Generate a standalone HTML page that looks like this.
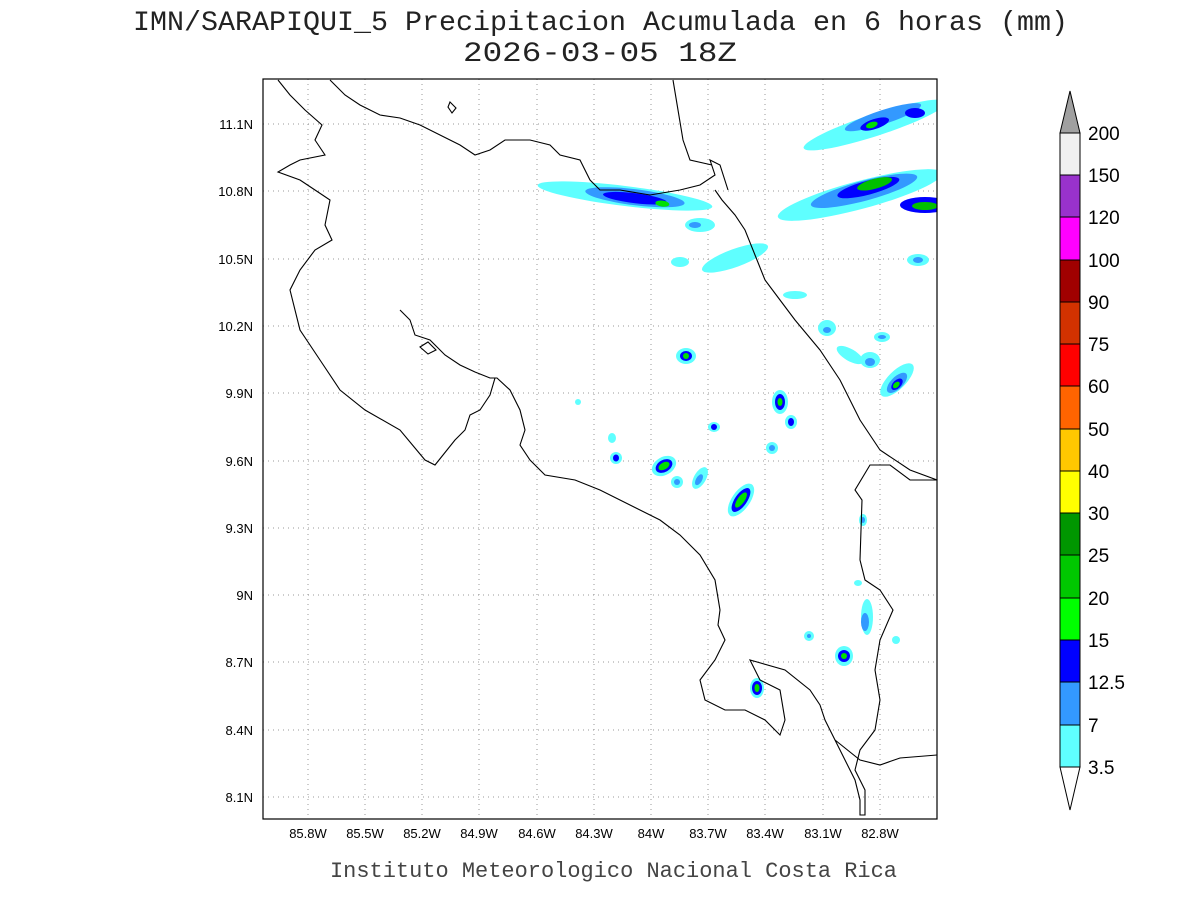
<!DOCTYPE html>
<html><head><meta charset="utf-8"><style>
html,body{margin:0;padding:0;background:#fff;}
svg{display:block;font-family:"Liberation Sans",sans-serif;}
</style></head><body>
<svg width="1200" height="900" viewBox="0 0 1200 900" xmlns="http://www.w3.org/2000/svg">
<rect width="1200" height="900" fill="#fff"/>
<text x="133" y="30" textLength="935" lengthAdjust="spacingAndGlyphs" font-size="28" fill="#222" font-family="Liberation Mono, monospace">IMN/SARAPIQUI_5 Precipitacion Acumulada en 6 horas (mm)</text>
<text x="463" y="61" textLength="274" lengthAdjust="spacingAndGlyphs" font-size="28" fill="#222" font-family="Liberation Mono, monospace">2026-03-05 18Z</text>
<defs><clipPath id="c"><rect x="263" y="79" width="674" height="740"/></clipPath></defs>
<g stroke="#999" stroke-width="1" stroke-dasharray="1,4">
<line x1="308" y1="79" x2="308" y2="819"/><line x1="365" y1="79" x2="365" y2="819"/><line x1="422" y1="79" x2="422" y2="819"/><line x1="479" y1="79" x2="479" y2="819"/><line x1="537" y1="79" x2="537" y2="819"/><line x1="594" y1="79" x2="594" y2="819"/><line x1="651" y1="79" x2="651" y2="819"/><line x1="708" y1="79" x2="708" y2="819"/><line x1="765" y1="79" x2="765" y2="819"/><line x1="823" y1="79" x2="823" y2="819"/><line x1="880" y1="79" x2="880" y2="819"/>
<line x1="263" y1="124" x2="937" y2="124"/><line x1="263" y1="191" x2="937" y2="191"/><line x1="263" y1="259" x2="937" y2="259"/><line x1="263" y1="326" x2="937" y2="326"/><line x1="263" y1="393" x2="937" y2="393"/><line x1="263" y1="461" x2="937" y2="461"/><line x1="263" y1="528" x2="937" y2="528"/><line x1="263" y1="595" x2="937" y2="595"/><line x1="263" y1="662" x2="937" y2="662"/><line x1="263" y1="730" x2="937" y2="730"/><line x1="263" y1="797" x2="937" y2="797"/>
</g>
<g clip-path="url(#c)">
<g transform="rotate(7 625 196)"><ellipse cx="625" cy="196" rx="88" ry="10" fill="#5fffff"/><ellipse cx="635" cy="196" rx="50" ry="8" fill="#3399ff"/><ellipse cx="635" cy="197" rx="32" ry="5" fill="#0000ff"/><ellipse cx="663" cy="199" rx="7" ry="3" fill="#00e000"/></g>
<g transform="rotate(-15 860 195)"><ellipse cx="860" cy="195" rx="85" ry="14" fill="#5fffff"/><ellipse cx="865" cy="192" rx="55" ry="10" fill="#3399ff"/><ellipse cx="870" cy="190" rx="32" ry="7" fill="#0000ff"/><ellipse cx="877" cy="188" rx="18" ry="5" fill="#00c000"/></g>
<ellipse cx="925" cy="205" rx="25" ry="8" fill="#0000ff"/><ellipse cx="925" cy="206" rx="13" ry="4" fill="#00c000"/>
<g transform="rotate(-18 875 125)"><ellipse cx="875" cy="125" rx="75" ry="11" fill="#5fffff"/><ellipse cx="885" cy="120" rx="40" ry="7" fill="#3399ff"/><ellipse cx="875" cy="124" rx="15" ry="5" fill="#0000ff"/><ellipse cx="872" cy="124" rx="6" ry="3" fill="#00e000"/></g>
<ellipse cx="915" cy="113" rx="10" ry="5" fill="#0000ff"/>
<g transform="rotate(-20 735 258)"><ellipse cx="735" cy="258" rx="35" ry="9" fill="#5fffff"/></g>
<ellipse cx="700" cy="225" rx="15" ry="7" fill="#5fffff"/><ellipse cx="695" cy="225" rx="6" ry="3" fill="#3399ff"/>
<ellipse cx="680" cy="262" rx="9" ry="5" fill="#5fffff"/>
<ellipse cx="795" cy="295" rx="12" ry="4" fill="#5fffff"/>
<ellipse cx="918" cy="260" rx="11" ry="6" fill="#5fffff"/><ellipse cx="918" cy="260" rx="5" ry="3" fill="#3399ff"/>
<ellipse cx="827" cy="328" rx="9" ry="8" fill="#5fffff"/><ellipse cx="827" cy="330" rx="4" ry="3" fill="#3399ff"/>
<ellipse cx="882" cy="337" rx="8" ry="5" fill="#5fffff"/><ellipse cx="882" cy="337" rx="4" ry="2" fill="#3399ff"/>
<g transform="rotate(30 850 355)"><ellipse cx="850" cy="355" rx="15" ry="6" fill="#5fffff"/></g>
<ellipse cx="870" cy="360" rx="10" ry="8" fill="#5fffff"/><ellipse cx="870" cy="362" rx="5" ry="4" fill="#3399ff"/>
<g transform="rotate(-45 897 380)"><ellipse cx="897" cy="380" rx="22" ry="9" fill="#5fffff"/><ellipse cx="895" cy="382" rx="13" ry="6" fill="#3399ff"/><ellipse cx="894" cy="383" rx="7" ry="4" fill="#0000ff"/><ellipse cx="893" cy="383" rx="4" ry="2.5" fill="#00e000"/></g>
<ellipse cx="686" cy="356" rx="10" ry="8" fill="#5fffff"/><ellipse cx="686" cy="356" rx="6" ry="5" fill="#0000ff"/><ellipse cx="686" cy="356" rx="3" ry="3" fill="#00e000"/>
<ellipse cx="780" cy="402" rx="8" ry="12" fill="#5fffff"/><ellipse cx="780" cy="402" rx="5" ry="8" fill="#0000ff"/><ellipse cx="780" cy="402" rx="2.5" ry="4" fill="#00e000"/>
<ellipse cx="791" cy="422" rx="6" ry="7" fill="#5fffff"/><ellipse cx="791" cy="422" rx="3" ry="4" fill="#0000ff"/>
<ellipse cx="714" cy="427" rx="6" ry="5" fill="#5fffff"/><ellipse cx="714" cy="427" rx="3" ry="3" fill="#0000ff"/>
<ellipse cx="612" cy="438" rx="4" ry="5" fill="#5fffff"/>
<ellipse cx="616" cy="458" rx="6" ry="6" fill="#5fffff"/><ellipse cx="616" cy="458" rx="3" ry="3.5" fill="#0000ff"/>
<ellipse cx="772" cy="448" rx="6" ry="6" fill="#5fffff"/><ellipse cx="772" cy="448" rx="3" ry="3" fill="#3399ff"/>
<g transform="rotate(-30 664 466)"><ellipse cx="664" cy="466" rx="13" ry="9" fill="#5fffff"/><ellipse cx="664" cy="466" rx="9" ry="6" fill="#0000ff"/><ellipse cx="664" cy="466" rx="6" ry="3.5" fill="#00e000"/></g>
<ellipse cx="677" cy="482" rx="6" ry="6" fill="#5fffff"/><ellipse cx="677" cy="482" rx="3" ry="3" fill="#3399ff"/>
<g transform="rotate(30 700 478)"><ellipse cx="700" cy="478" rx="6" ry="12" fill="#5fffff"/><ellipse cx="700" cy="480" rx="3" ry="6" fill="#3399ff"/></g>
<g transform="rotate(35 741 500)"><ellipse cx="741" cy="500" rx="9" ry="19" fill="#5fffff"/><ellipse cx="741" cy="500" rx="6" ry="14" fill="#0000ff"/><ellipse cx="741" cy="500" rx="3.5" ry="9" fill="#00e000"/></g>
<ellipse cx="578" cy="402" rx="3" ry="3" fill="#5fffff"/>
<ellipse cx="863" cy="520" rx="4" ry="6" fill="#5fffff"/><ellipse cx="863" cy="520" rx="2" ry="3" fill="#3399ff"/>
<ellipse cx="867" cy="617" rx="6" ry="18" fill="#5fffff"/><ellipse cx="865" cy="622" rx="4" ry="9" fill="#3399ff"/>
<ellipse cx="809" cy="636" rx="5" ry="5" fill="#5fffff"/><ellipse cx="809" cy="636" rx="2" ry="2" fill="#3399ff"/>
<ellipse cx="844" cy="656" rx="9" ry="10" fill="#5fffff"/><ellipse cx="844" cy="656" rx="6" ry="6" fill="#0000ff"/><ellipse cx="844" cy="656" rx="3" ry="3" fill="#00e000"/>
<ellipse cx="896" cy="640" rx="4" ry="4" fill="#5fffff"/>
<ellipse cx="757" cy="688" rx="7" ry="10" fill="#5fffff"/><ellipse cx="757" cy="688" rx="5" ry="7" fill="#0000ff"/><ellipse cx="757" cy="688" rx="2.5" ry="4" fill="#00e000"/>
<ellipse cx="858" cy="583" rx="4" ry="3" fill="#5fffff"/>
<g fill="none" stroke="#000" stroke-width="1.1">
<polyline points="278,80 290,95 305,110 322,125 315,140 325,155 300,160 290,165 278,172 300,180 315,190 330,200 325,225 332,240 315,250 300,270 290,290 295,310 300,330 320,360 340,390 365,410 400,430 425,460 435,465 455,440 465,430 470,415 480,410 490,395 495,378"/>
<polyline points="400,310 410,320 415,335 430,340 445,355 460,365 475,372 490,378 497,378 510,390 520,410 525,430 520,445 530,460 545,475 575,480 600,490 620,500 640,510 660,520 680,535 700,555 715,580 720,610 718,625 725,640 715,660 700,680 705,700 725,710 745,710 765,720 780,735 785,720 780,690 760,680 750,660 785,670 810,690 820,705 825,720 835,740 845,760 855,780 860,800 860,815 865,815 865,790 855,770 860,750 875,730 880,700 875,670 880,640 893,610 880,590 865,580 860,560 862,500 855,490 870,465 890,465 910,480 937,480"/>
<polyline points="330,80 345,95 360,105 380,115 400,118 420,125 440,135 460,145 475,155 490,150 505,140 530,140 550,145 560,155 580,160 590,180 600,190 620,190 650,195 680,190 700,185 715,175 710,160 720,165 728,190"/>
<polyline points="673,80 678,110 683,140 690,160 712,165"/>
<polyline points="715,190 722,200 735,215 745,230 755,255 765,280 780,300 795,320 820,350 840,380 860,420 880,450 910,470 937,480"/>
<polygon points="420,347 428,342 436,350 428,354"/>
<polygon points="450,102 456,108 452,113 448,107"/>
<polyline points="835,740 860,760 880,765 900,758 937,755"/>
</g>
</g>
<rect x="263" y="79" width="674" height="740" fill="none" stroke="#000" stroke-width="1.2"/>
<g font-size="13" fill="#000" text-anchor="end">
<text x="253" y="129">11.1N</text><text x="253" y="196">10.8N</text><text x="253" y="264">10.5N</text><text x="253" y="331">10.2N</text><text x="253" y="398">9.9N</text><text x="253" y="466">9.6N</text><text x="253" y="533">9.3N</text><text x="253" y="600">9N</text><text x="253" y="667">8.7N</text><text x="253" y="735">8.4N</text><text x="253" y="802">8.1N</text>
</g>
<g font-size="13" fill="#000" text-anchor="middle">
<text x="308" y="838">85.8W</text><text x="365" y="838">85.5W</text><text x="422" y="838">85.2W</text><text x="479" y="838">84.9W</text><text x="537" y="838">84.6W</text><text x="594" y="838">84.3W</text><text x="651" y="838">84W</text><text x="708" y="838">83.7W</text><text x="765" y="838">83.4W</text><text x="823" y="838">83.1W</text><text x="880" y="838">82.8W</text>
</g>
<text x="330" y="877" textLength="567" lengthAdjust="spacingAndGlyphs" font-size="22" fill="#444" font-family="Liberation Mono, monospace">Instituto Meteorologico Nacional Costa Rica</text>
<g stroke="#000" stroke-width="1">
<polygon points="1060,133 1080,133 1070,91" fill="#a0a0a0"/>
<rect x="1060" y="133" width="20" height="42" fill="#f0f0f0"/>
<rect x="1060" y="175" width="20" height="42" fill="#9932cc"/>
<rect x="1060" y="217" width="20" height="43" fill="#ff00ff"/>
<rect x="1060" y="260" width="20" height="42" fill="#a00000"/>
<rect x="1060" y="302" width="20" height="42" fill="#d23200"/>
<rect x="1060" y="344" width="20" height="42" fill="#ff0000"/>
<rect x="1060" y="386" width="20" height="43" fill="#ff6400"/>
<rect x="1060" y="429" width="20" height="42" fill="#ffc800"/>
<rect x="1060" y="471" width="20" height="42" fill="#ffff00"/>
<rect x="1060" y="513" width="20" height="42" fill="#009600"/>
<rect x="1060" y="555" width="20" height="43" fill="#00c800"/>
<rect x="1060" y="598" width="20" height="42" fill="#00ff00"/>
<rect x="1060" y="640" width="20" height="42" fill="#0000ff"/>
<rect x="1060" y="682" width="20" height="43" fill="#3399ff"/>
<rect x="1060" y="725" width="20" height="42" fill="#5fffff"/>
<polygon points="1060,767 1080,767 1070,810" fill="#fff"/>
</g>
<g font-size="19" fill="#000">
<text x="1088" y="140">200</text><text x="1088" y="182">150</text><text x="1088" y="224">120</text><text x="1088" y="267">100</text><text x="1088" y="309">90</text><text x="1088" y="351">75</text><text x="1088" y="393">60</text><text x="1088" y="436">50</text><text x="1088" y="478">40</text><text x="1088" y="520">30</text><text x="1088" y="562">25</text><text x="1088" y="605">20</text><text x="1088" y="647">15</text><text x="1088" y="689">12.5</text><text x="1088" y="732">7</text><text x="1088" y="774">3.5</text>
</g>
</svg>
</body></html>
